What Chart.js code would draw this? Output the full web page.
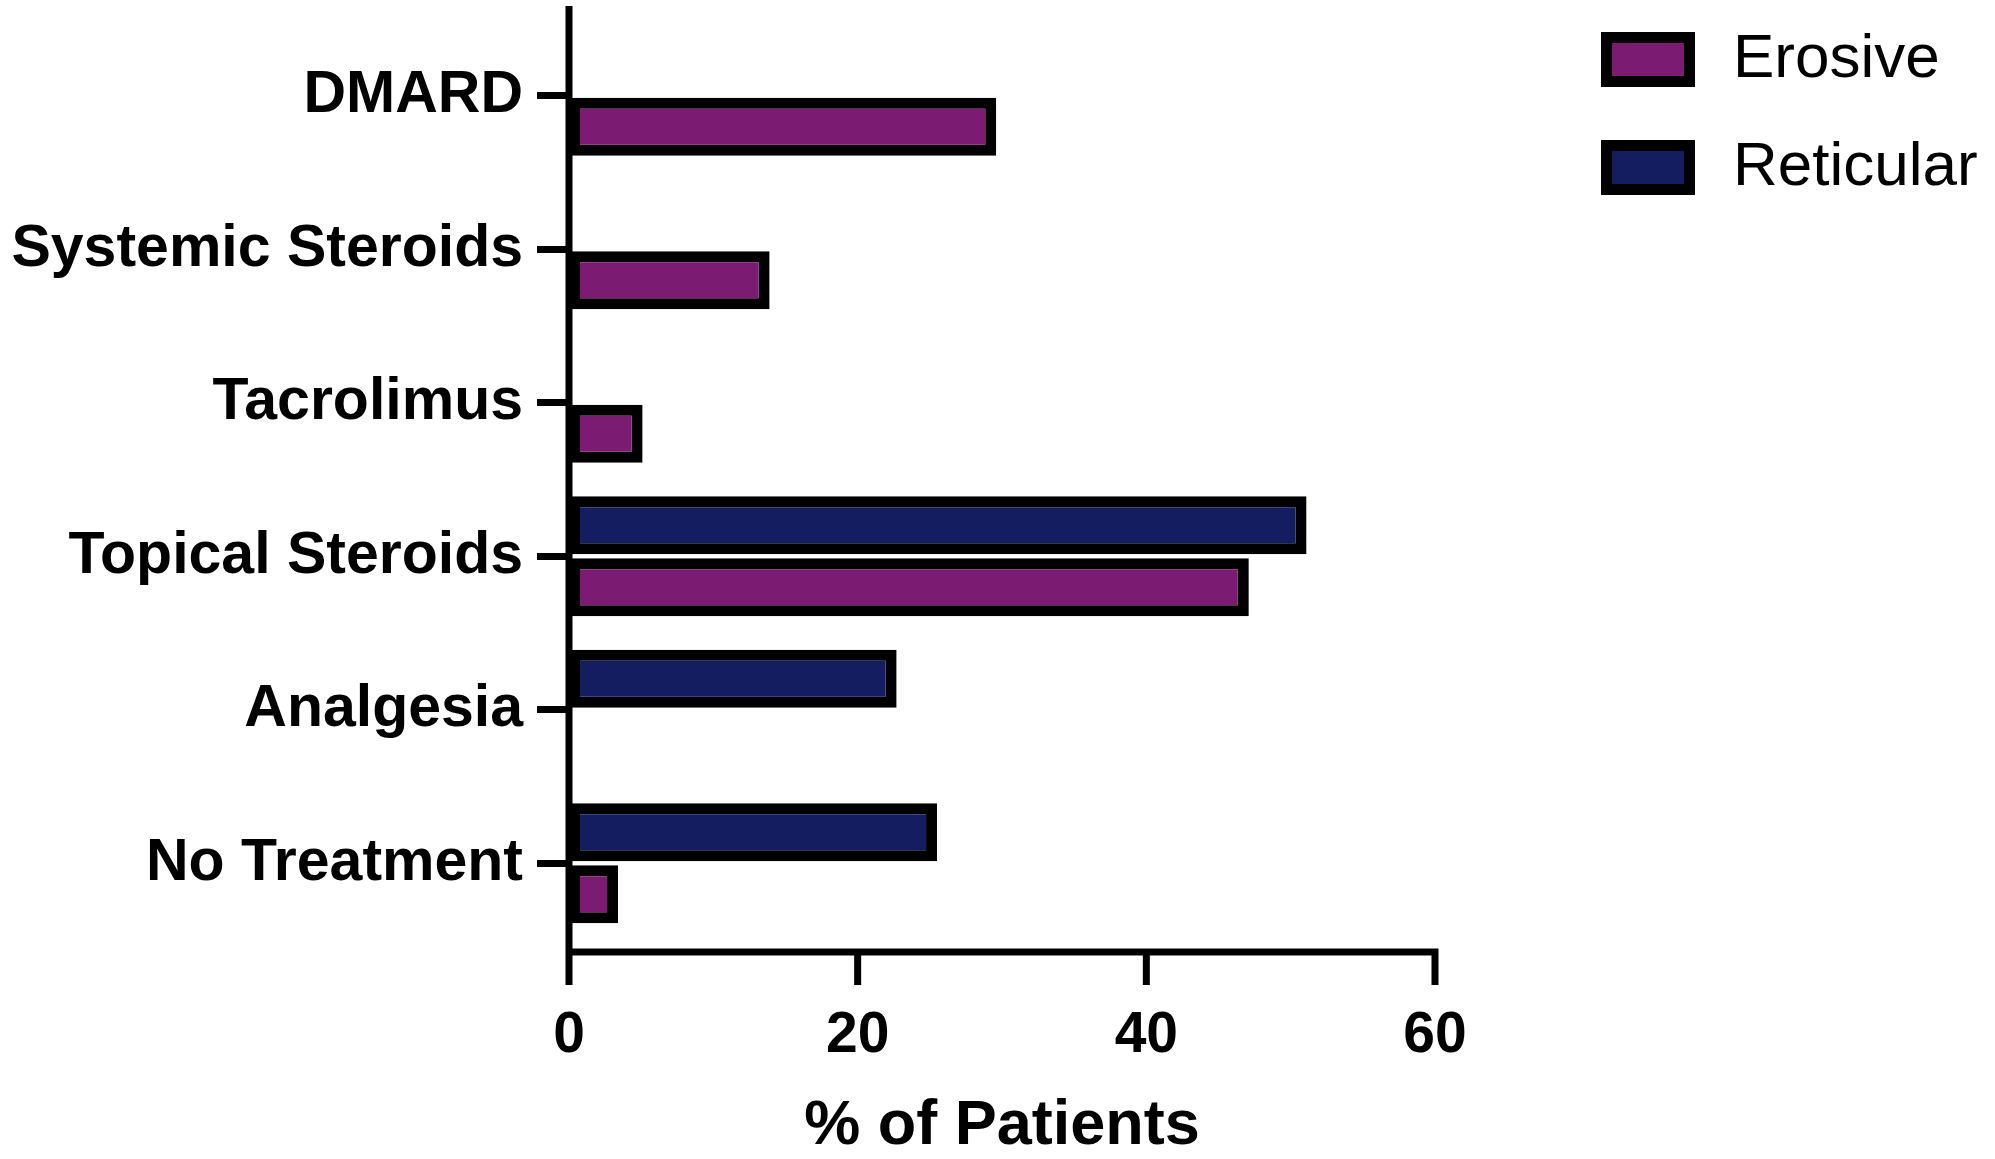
<!DOCTYPE html>
<html>
<head>
<meta charset="utf-8">
<script src="https://cdn.jsdelivr.net/npm/chart.js@4"></script>
<style>
  html, body { margin: 0; padding: 0; background: #fff; }
</style>
</head>
<body>
<canvas id="ChartTreatment" width="1995" height="1159"></canvas>
<script>
// Categories (top to bottom)
const categories = ['DMARD', 'Systemic Steroids', 'Tacrolimus', 'Topical Steroids', 'Analgesia', 'No Treatment'];

// % of patients per group (null = no bar)
const reticular = [null, null, null, 51.1, 22.7, 25.5];
const erosive = [29.6, 13.9, 5.1, 47.1, null, 3.4];

// x axis ticks
const xTicks = [0, 20, 40, 60];

const colors = {
    erosive: '#7B1C72',
    reticular: '#141D5F',
    line: '#000000'
};

const fontFamily = "'Liberation Sans', Arial, Helvetica, sans-serif";

// Prism-style axes: y line runs above the bands, x line sits a bit under them
const prismAxes = {
    id: 'prismAxes',
    afterLayout(chart) {
        // move the legend to the top-right corner
        const lg = chart.legend;
        const dx = 1560.5 - lg.left, dy = -17.5 - lg.top;
        lg.left += dx; lg.right += dx;
        lg.top += dy; lg.bottom += dy;
    },
    afterDraw(chart) {
        const {ctx, chartArea, scales: {x}} = chart;
        const w = 7;
        const axisY = chartArea.bottom + 12;
        const x0 = x.getPixelForValue(xTicks[0]);
        const x1 = x.getPixelForValue(xTicks[xTicks.length - 1]);
        ctx.save();
        ctx.strokeStyle = colors.line;
        ctx.lineWidth = w;
        ctx.lineCap = 'butt';
        ctx.beginPath();
        // y axis
        ctx.moveTo(chartArea.left, 6);
        ctx.lineTo(chartArea.left, axisY + w / 2);
        // x axis
        ctx.moveTo(x0 - w / 2, axisY);
        ctx.lineTo(x1 + w / 2, axisY);
        // x ticks
        xTicks.forEach(v => {
            const px = x.getPixelForValue(v);
            ctx.moveTo(px, axisY);
            ctx.lineTo(px, axisY + 33);
        });
        ctx.stroke();
        ctx.restore();
    }
};

new Chart(document.getElementById('ChartTreatment'), {
    type: 'bar',
    data: {
        labels: categories,
        datasets: [{
            label: 'Reticular',
            data: reticular,
            backgroundColor: colors.reticular,
            borderColor: colors.line,
            borderWidth: 11,
            borderSkipped: false
        }, {
            label: 'Erosive',
            data: erosive,
            backgroundColor: colors.erosive,
            borderColor: colors.line,
            borderWidth: 11,
            borderSkipped: false
        }]
    },
    plugins: [prismAxes],
    options: {
        indexAxis: 'y',
        responsive: false,
        animation: false,
        devicePixelRatio: 1,
        categoryPercentage: 0.808,
        barPercentage: 0.935,
        layout: {
            padding: { top: 19, right: 560, bottom: 0, left: 0 }
        },
        scales: {
            x: {
                min: 0,
                max: 60,
                afterFit: scale => { scale.height = 219; },
                afterBuildTicks: scale => { scale.ticks = xTicks.map(v => ({value: v})); },
                border: { display: false },
                grid: { display: false, drawTicks: false },
                ticks: {
                    padding: 62,
                    color: '#000',
                    font: { family: fontFamily, size: 57, weight: 'bold' }
                },
                title: {
                    display: true,
                    text: '% of Patients',
                    color: '#000',
                    font: { family: fontFamily, size: 63, weight: 'bold', lineHeight: 1 },
                    padding: { top: 0, bottom: 1 }
                }
            },
            y: {
                offset: true,
                afterFit: scale => {
                    scale.width = 569;
                    scale.paddingTop = 0;
                    scale.paddingBottom = 0;
                },
                border: { display: false },
                grid: {
                    offset: false,
                    drawOnChartArea: false,
                    drawTicks: true,
                    tickLength: 32,
                    lineWidth: 7,
                    color: colors.line
                },
                ticks: {
                    padding: 14,
                    color: '#000',
                    font: { family: fontFamily, size: 59, weight: 'bold' }
                }
            }
        },
        plugins: {
            legend: {
                position: 'chartArea',
                align: 'start',
                reverse: true,
                labels: {
                    boxWidth: 83,
                    boxHeight: 44,
                    padding: 46,
                    color: '#000',
                    font: { family: fontFamily, size: 62 },
                    generateLabels: chart => Chart.defaults.plugins.legend.labels.generateLabels(chart)
                        .map(item => Object.assign(item, { text: '\u2009' + item.text }))
                }
            },
            tooltip: { enabled: false }
        }
    }
});
</script>
</body>
</html>
